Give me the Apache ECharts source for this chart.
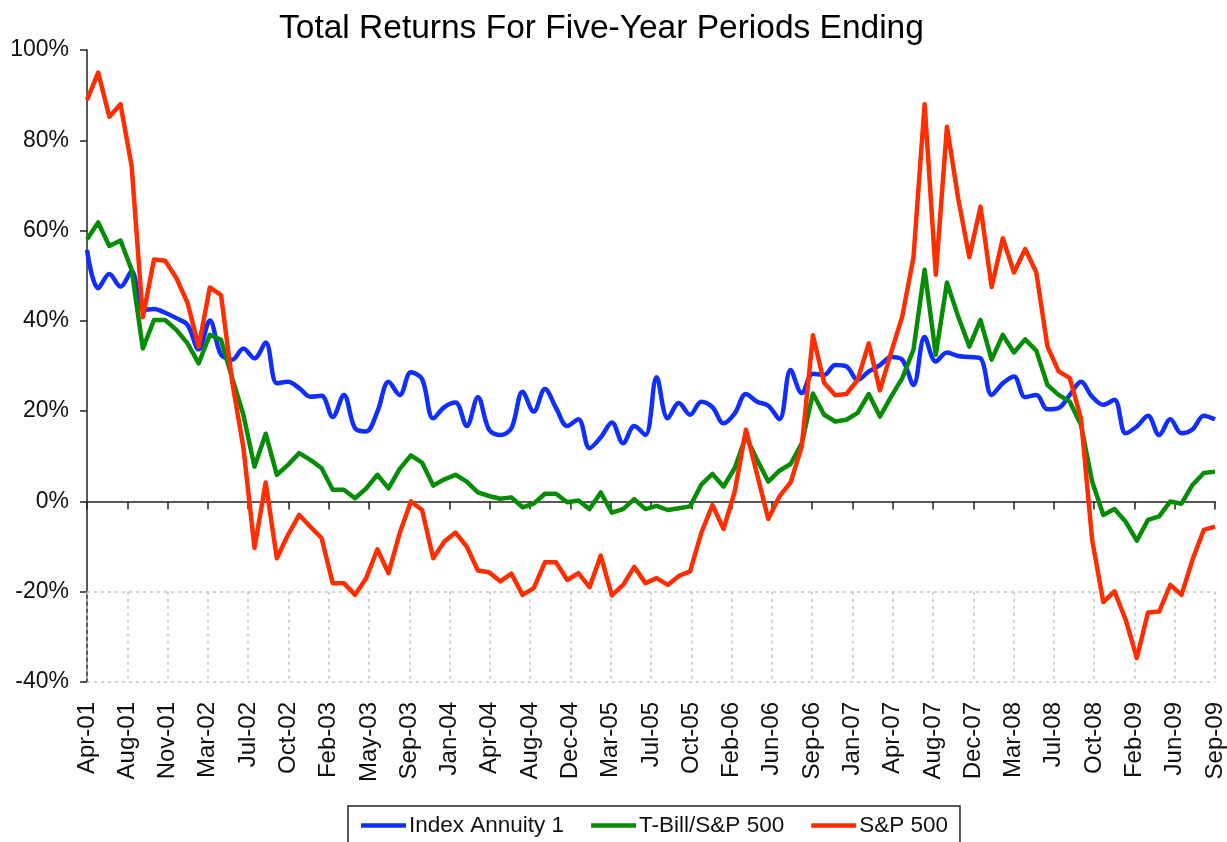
<!DOCTYPE html>
<html>
<head>
<meta charset="utf-8">
<title>Total Returns For Five-Year Periods Ending</title>
<script src="https://cdn.jsdelivr.net/npm/echarts@6/dist/echarts.min.js"></script>
<style>
  html, body { margin: 0; padding: 0; background: #fff; }
  #chart { width: 1227px; height: 842px; }
</style>
</head>
<body>
<div id="chart"></div>
<script>
// monthly points Apr-01 .. Sep-09 (102 months), values in %
const tickLabels = ['Apr-01', 'Aug-01', 'Nov-01', 'Mar-02', 'Jul-02', 'Oct-02', 'Feb-03', 'May-03', 'Sep-03',
  'Jan-04', 'Apr-04', 'Aug-04', 'Dec-04', 'Mar-05', 'Jul-05', 'Oct-05', 'Feb-06', 'Jun-06', 'Sep-06',
  'Jan-07', 'Apr-07', 'Aug-07', 'Dec-07', 'Mar-08', 'Jul-08', 'Oct-08', 'Feb-09', 'Jun-09', 'Sep-09'];

const indexAnnuity = [55.7, 47.2, 50.4, 47.6, 51.0, 42.4, 42.6, 41.8, 40.6, 39.1,
  33.7, 40.1, 32.5, 31.4, 33.9, 31.7, 35.2, 26.2, 26.5, 25.1,
  23.2, 23.4, 18.7, 23.6, 16.2, 15.5, 19.9, 26.5, 23.6, 28.6,
  27.1, 18.4, 20.9, 21.9, 16.7, 23.1, 15.9, 14.7, 16.2, 24.3,
  19.9, 24.9, 20.7, 16.7, 18.2, 11.8, 14.2, 17.5, 12.9, 16.7,
  14.7, 27.5, 18.4, 21.8, 19.2, 22.1, 20.9, 17.3, 19.5, 23.8,
  22.1, 21.2, 18.2, 29.1, 24.0, 28.3, 28.0, 30.2, 29.9, 26.9,
  28.8, 30.2, 32.0, 31.4, 25.8, 36.4, 31.0, 33.0, 32.2, 32.0,
  31.7, 23.6, 26.2, 27.7, 23.1, 23.6, 20.4, 20.7, 23.6, 26.5,
  23.2, 21.4, 22.5, 15.1, 16.6, 19.0, 14.7, 18.2, 15.1, 16.0,
  19.0, 18.2];

const tbillSp = [58.1, 61.8, 56.6, 57.8, 51.3, 33.9, 40.2, 40.2, 38.0, 35.0,
  30.6, 36.9, 35.8, 27.3, 19.2, 7.7, 15.0, 5.9, 8.1, 10.7,
  9.2, 7.4, 2.6, 2.6, 0.7, 2.9, 5.9, 2.9, 7.2, 10.2,
  8.6, 3.5, 4.9, 5.9, 4.4, 2.0, 1.2, 0.6, 0.9, -1.3,
  -0.5, 1.7, 1.7, -0.2, 0.2, -1.7, 2.0, -2.5, -1.7, 0.5,
  -1.7, -1.0, -1.9, -1.5, -1.1, 3.7, 6.1, 3.3, 7.4, 14.4,
  9.2, 4.4, 6.8, 8.3, 12.9, 23.9, 19.2, 17.7, 18.1, 19.6,
  23.8, 18.8, 23.2, 27.3, 33.6, 51.3, 32.5, 48.5, 41.0, 34.3,
  40.2, 31.4, 36.9, 33.0, 35.9, 33.4, 25.8, 23.6, 22.1, 17.0,
  4.4, -3.0, -1.7, -4.5, -8.7, -4.1, -3.3, 0.0, -0.5, 3.7,
  6.3, 6.6];

const sp500 = [88.9, 95.0, 85.2, 88.0, 74.2, 40.8, 53.6, 53.3, 49.5, 44.0,
  34.3, 47.4, 45.7, 26.5, 12.0, -10.3, 4.2, -12.6, -7.4, -3.0,
  -5.6, -8.1, -18.1, -18.1, -20.7, -17.0, -10.6, -15.9, -7.0, 0.0,
  -1.9, -12.6, -8.9, -6.9, -10.0, -15.3, -15.7, -17.7, -16.0, -20.7,
  -19.2, -13.5, -13.5, -17.4, -15.9, -19.0, -12.0, -20.8, -18.5, -14.5,
  -18.1, -17.0, -18.5, -16.5, -15.5, -7.0, -0.8, -6.1, 2.2, 15.9,
  6.0, -3.9, 1.1, 4.2, 12.2, 36.8, 26.3, 23.5, 23.8, 26.9,
  35.0, 24.6, 33.0, 41.0, 54.0, 88.0, 50.2, 83.0, 67.2, 54.1,
  65.3, 47.5, 58.3, 50.7, 55.9, 50.7, 34.3, 28.8, 27.3, 18.4,
  -8.5, -22.3, -19.9, -26.2, -34.7, -24.6, -24.4, -18.5, -20.7, -12.8,
  -6.3, -5.6];

const seriesNames = ['Index Annuity 1', 'T-Bill/S&P 500', 'S&P 500'];
const seriesColors = ['#0f2eff', '#078c07', '#ff2d00'];

// x axis runs in "label steps": 28 equal gaps between the 29 labels, 101 months in total
const steps = tickLabels.length - 1;
const months = indexAnnuity.length - 1;
const toPoints = vals => vals.map((v, k) => [k * steps / months, v]);

const font = '"Liberation Sans", Arial, sans-serif';

// dotted grid only in the band -20%..-40%
const gridMarks = [{ yAxis: -20 }, { yAxis: -40 }];
for (let i = 0; i <= steps; i++) {
  gridMarks.push([{ coord: [i, -20] }, { coord: [i, -40] }]);
}

const chart = echarts.init(document.getElementById('chart'), null, { renderer: 'canvas' });

chart.setOption({
  animation: false,
  backgroundColor: '#fff',
  title: {
    text: 'Total Returns For Five-Year Periods Ending',
    left: 274,
    top: 7,
    textStyle: { fontFamily: font, fontSize: 33.5, fontWeight: 'normal', color: '#000' }
  },
  legend: {
    data: seriesNames,
    left: 348,
    top: 806,
    orient: 'horizontal',
    icon: 'rect',
    padding: [8, 12, 12, 13],
    itemWidth: 45,
    itemHeight: 4.5,
    itemGap: 27,
    borderColor: '#222',
    borderWidth: 1.5,
    textStyle: { fontFamily: font, fontSize: 22.5, color: '#111', padding: [0, 0, 0, -2] }
  },
  grid: { left: 87, right: 12, top: 50, bottom: 160, containLabel: false },
  xAxis: [
    {
      type: 'value',
      position: 'bottom',
      min: 0,
      max: steps,
      interval: 1,
      axisLine: { show: false, onZero: false },
      axisTick: { show: false },
      splitLine: { show: false },
      axisLabel: {
        rotate: 90,
        margin: 20,
        fontFamily: font,
        fontSize: 24,
        color: '#111',
        formatter: v => tickLabels[Math.round(v)] || ''
      }
    },
    {
      type: 'value',
      position: 'top',
      min: 0,
      max: steps,
      interval: 1,
      axisLine: { show: true, onZero: true, lineStyle: { color: '#222', width: 1.5 } },
      axisTick: { show: true, inside: true, length: 8, lineStyle: { color: '#222', width: 1.5 } },
      axisLabel: { show: false },
      splitLine: { show: false }
    }
  ],
  yAxis: {
    type: 'value',
    min: -40,
    max: 100,
    interval: 20,
    axisLine: { show: true, onZero: false, lineStyle: { color: '#222', width: 1.5 } },
    axisTick: { show: true, length: 7, lineStyle: { color: '#222', width: 1.5 } },
    splitLine: { show: false },
    axisLabel: {
      margin: 18,
      fontFamily: font,
      fontSize: 23,
      color: '#111',
      formatter: '{value}%'
    }
  },
  series: [
    {
      name: 'grid',
      type: 'line',
      data: [],
      silent: true,
      z: 1,
      markLine: {
        silent: true,
        symbol: 'none',
        z: 1,
        label: { show: false },
        lineStyle: { color: '#c4c4c4', width: 1.5, type: [3, 4] },
        data: gridMarks
      }
    },
    {
      name: seriesNames[0],
      type: 'line',
      data: toPoints(indexAnnuity),
      symbol: 'none',
      smooth: 0.35,
      lineStyle: { color: seriesColors[0], width: 4.5, join: 'round' },
      itemStyle: { color: seriesColors[0] }
    },
    {
      name: seriesNames[1],
      type: 'line',
      data: toPoints(tbillSp),
      symbol: 'none',
      lineStyle: { color: seriesColors[1], width: 4.5, join: 'round' },
      itemStyle: { color: seriesColors[1] }
    },
    {
      name: seriesNames[2],
      type: 'line',
      data: toPoints(sp500),
      symbol: 'none',
      lineStyle: { color: seriesColors[2], width: 4.5, join: 'round' },
      itemStyle: { color: seriesColors[2] }
    }
  ]
});
</script>
</body>
</html>
